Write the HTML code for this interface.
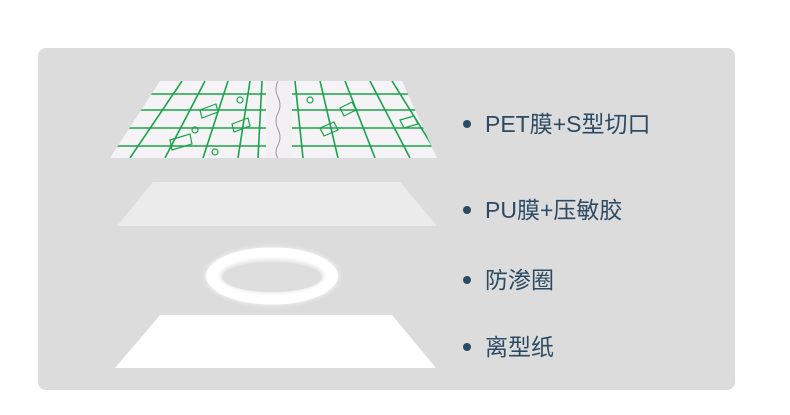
<!DOCTYPE html>
<html><head><meta charset="utf-8"><style>
html,body{margin:0;padding:0;background:#fff;width:790px;height:415px;overflow:hidden}
</style></head><body>
<svg width="790" height="415" viewBox="0 0 790 415" xmlns="http://www.w3.org/2000/svg">
<defs>
<clipPath id="tc"><polygon points="160,81 402,81 437,158 110,158"/></clipPath>
<filter id="bl"><feGaussianBlur stdDeviation="1.5"/></filter>
</defs>
<rect x="38" y="48" width="697" height="342" rx="8" fill="#dcdcdc"/>
<!-- top PET sheet -->
<polygon points="160,81 402,81 437,158 110,158" fill="#f6f3f6"/>
<g clip-path="url(#tc)" stroke="#19a34a" stroke-width="1.6" fill="none">
<line x1="110" y1="94" x2="440" y2="94"/>
<line x1="110" y1="110" x2="440" y2="110"/>
<line x1="110" y1="128" x2="440" y2="128"/>
<line x1="110" y1="146" x2="440" y2="146"/>
<line x1="182" y1="81" x2="130" y2="158"/>
<line x1="205" y1="81" x2="165" y2="158"/>
<line x1="228" y1="81" x2="203" y2="158"/>
<line x1="250" y1="81" x2="238" y2="158"/>
<line x1="262" y1="81" x2="258" y2="158"/>
<line x1="295" y1="81" x2="303" y2="158"/>
<line x1="320" y1="81" x2="338" y2="158"/>
<line x1="345" y1="81" x2="375" y2="158"/>
<line x1="370" y1="81" x2="410" y2="158"/>
<line x1="392" y1="81" x2="440" y2="158"/>
</g>
<g clip-path="url(#tc)">
<rect x="266" y="78" width="26" height="82" fill="#f2f0f2"/>
<path d="M278,81 q-4,8 0,16 q4,8 0,16 q-4,8 0,16 q4,8 0,16 q-4,8 0,13" stroke="#999" stroke-width="1" fill="none"/>
</g>
<g stroke="#19a34a" stroke-width="1.2" fill="none">
<polygon points="200,110 216,104 218,112 202,118"/><polygon points="232,124 248,118 250,126 234,132"/>
<polygon points="170,140 190,134 192,144 172,150"/><polygon points="320,128 334,122 338,130 324,136"/>
<polygon points="340,108 352,102 356,110 344,116"/><polygon points="400,120 414,116 418,124 404,128"/>
<circle cx="195" cy="130" r="3"/><circle cx="215" cy="152" r="3"/><circle cx="240" cy="100" r="3"/><circle cx="310" cy="100" r="3"/>
</g>
<!-- PU -->
<polygon points="153,182 400,182 437,226 117,226" fill="#ebebeb"/>
<!-- ring -->
<ellipse cx="272" cy="276" rx="68" ry="30" fill="#ececec" filter="url(#bl)"/>
<ellipse cx="272" cy="276" rx="66" ry="28.5" fill="#fff"/>
<ellipse cx="272" cy="276" rx="52" ry="17" fill="#e6e6e6" filter="url(#bl)"/>
<ellipse cx="272" cy="277" rx="50" ry="15" fill="#dedede"/>
<!-- release paper -->
<polygon points="160,315 392,315 436,368 115,368" fill="#fff"/>
<g fill="#2d4a63" font-family="'Liberation Sans','Noto Sans CJK SC',sans-serif" font-size="23">
<circle cx="467" cy="124" r="4"/><text x="485" y="132">PET膜+S型切口</text>
<circle cx="467" cy="210" r="4"/><text x="485" y="218">PU膜+压敏胶</text>
<circle cx="467" cy="280" r="4"/><text x="485" y="288">防渗圈</text>
<circle cx="467" cy="347" r="4"/><text x="485" y="355">离型纸</text>
</g>
</svg>
</body></html>
